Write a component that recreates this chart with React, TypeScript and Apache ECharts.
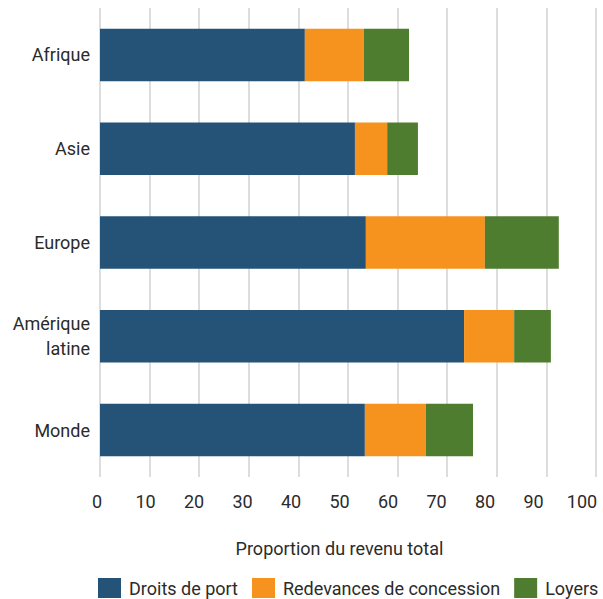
import React, { useEffect, useRef } from "react";
import * as echarts from "echarts";

const categories = ["Afrique", "Asie", "Europe", "Amérique\nlatine", "Monde"];
const droitsDePort = [41.3, 51.4, 53.6, 73.4, 53.4];
const redevances = [11.9, 6.5, 24.0, 10.1, 12.3];
const loyers = [9.1, 6.2, 14.9, 7.4, 9.5];
const seriesNames = ["Droits de port", "Redevances de concession", "Loyers"];
const colors = ["#255378", "#f6931e", "#4e7d2f"];
const axisTitle = "Proportion du revenu total";

const FONT = "Roboto";
const TXT = "#2b2b2b";
const FS = 18;

export default function App() {
  const ref = useRef<HTMLDivElement>(null);
  useEffect(() => {
    if (!ref.current) return;
    const chart = echarts.init(ref.current, null, { renderer: "svg" });
    const data = [droitsDePort, redevances, loyers];
    chart.setOption({
      animation: false,
      textStyle: { fontFamily: FONT },
      grid: [
        {
          left: 100,
          right: 7,
          top: 8,
          bottom: 122,
          containLabel: false,
          outerBoundsMode: "none",
        },
        {
          left: 97,
          right: 21,
          top: 8,
          bottom: 122,
          containLabel: false,
          outerBoundsMode: "none",
        },
      ],
      legend: {
        bottom: 1,
        left: 98,
        width: 540,
        padding: 0,
        itemWidth: 23,
        itemHeight: 20,
        itemGap: 14,
        icon: "rect",
        textStyle: { fontFamily: FONT, fontSize: FS, color: TXT, padding: [0, 0, 0, 3] },
        data: seriesNames,
      },
      xAxis: [
        {
          type: "value",
          gridIndex: 0,
          min: 0,
          max: 100,
          interval: 10,
          axisLine: { show: false },
          axisTick: { show: false },
          axisLabel: { show: false },
          splitLine: { show: true, lineStyle: { color: "#dddddd", width: 2 } },
        },
        {
          type: "value",
          gridIndex: 1,
          min: 0,
          max: 100,
          interval: 10,
          name: axisTitle,
          nameLocation: "middle",
          nameGap: 62,
          nameTextStyle: { fontFamily: FONT, fontSize: FS, color: TXT },
          axisLine: { show: false },
          axisTick: { show: false },
          axisLabel: { fontFamily: FONT, fontSize: FS, color: TXT, margin: 15 },
          splitLine: { show: false },
        },
      ],
      yAxis: [
        {
          type: "category",
          gridIndex: 0,
          data: categories,
          inverse: true,
          axisLine: { show: false },
          axisTick: { show: false },
          axisLabel: { fontFamily: FONT, fontSize: FS, color: TXT, margin: 10, lineHeight: 25 },
        },
        {
          type: "category",
          gridIndex: 1,
          data: categories,
          inverse: true,
          show: false,
        },
      ],
      series: seriesNames.map((name, i) => ({
        name,
        type: "bar",
        stack: "total",
        xAxisIndex: 0,
        yAxisIndex: 0,
        barWidth: "56%",
        itemStyle: { color: colors[i] },
        data: data[i],
      })),
    });
    return () => chart.dispose();
  }, []);
  return (
    <div
      ref={ref}
      style={{ position: "fixed", left: 0, top: 0, width: 603, height: 599, background: "#fff" }}
    />
  );
}
